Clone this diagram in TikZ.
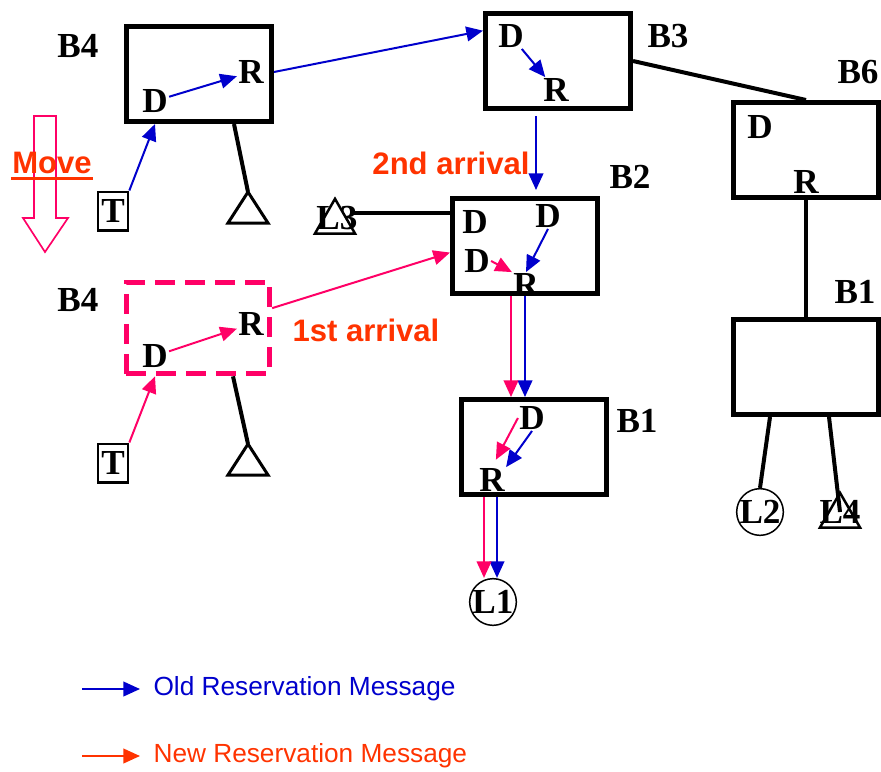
\documentclass[tikz,border=0pt]{standalone}
\usepackage{fontspec}
\setmainfont{Liberation Serif}
\newfontfamily\arialfont{Liberation Sans}
\usetikzlibrary{arrows.meta,shapes.geometric}

\definecolor{oldblue}{RGB}{0,0,204}
\definecolor{newpink}{RGB}{255,0,102}
\definecolor{newred}{RGB}{255,51,0}

\tikzset{
  bridge/.style={draw, line width=1.5mm, minimum width=43.5mm, minimum height=28.5mm, inner sep=0pt},
  ghost/.style={draw=newpink, line width=1.5mm, dash pattern=on 6mm off 3mm, minimum width=43mm, minimum height=27.5mm, inner sep=0pt},
  ltr/.style={font=\fontsize{30}{30}\selectfont\bfseries, inner sep=1pt},
  term/.style={draw, line width=0.8mm, minimum width=9mm, minimum height=11.5mm, inner sep=0pt, font=\fontsize{30}{30}\selectfont\bfseries},
  host/.style={circle, draw, line width=0.45mm, minimum size=14mm, inner sep=0pt},
  tri/.style={regular polygon, regular polygon sides=3, draw, line width=0.75mm, minimum size=13.9mm, inner sep=0pt},
  link/.style={line width=1.2mm},
  oldmsg/.style={draw=oldblue, line width=0.6mm, -{Triangle[length=5mm,width=4.4mm]}},
  newmsg/.style={draw=newpink, line width=0.6mm, -{Triangle[length=5mm,width=4.4mm]}},
  note/.style={font=\arialfont\bfseries\fontsize{26.5}{28}\selectfont, text=newred, inner sep=1pt},
  legend/.style={font=\arialfont\fontsize{22.4}{24}\selectfont, anchor=west, inner sep=4mm}
}

\begin{document}
\begin{tikzpicture}[x=0.3mm, y=-0.3mm]
\useasboundingbox (0,0) rectangle (881,771);

% bridges
\node[bridge] (b4) at (199,74) {};
\node[bridge] (b3) at (558,61) {};
\node[bridge] (b6) at (806,150) {};
\node[bridge] (b2) at (525,246) {};
\node[bridge] (b1) at (534,447) {};
\node[bridge] (b1r) at (806,367) {};
\node[ghost] (b4n) at (198,328) {};

\node[ltr] (lb4) at (78,46) {B4};
\node[ltr] (lb3) at (668,36) {B3};
\node[ltr] (lb6) at (858,72) {B6};
\node[ltr] (lb2) at (630,177) {B2};
\node[ltr] (lb1r) at (855,292) {B1};
\node[ltr] (lb4n) at (78,300) {B4};
\node[ltr] (lb1) at (637,421) {B1};

% D and R inside the bridges
\node[ltr] (d4) at (155,101) {D};
\node[ltr] (r4) at (251,72) {R};
\node[ltr] (d3) at (511,36) {D};
\node[ltr] (r3) at (556,90) {R};
\node[ltr] (d6) at (760,127) {D};
\node[ltr] (r6) at (806,182) {R};
\node[ltr] (d2a) at (475,222) {D};
\node[ltr] (d2b) at (548,216) {D};
\node[ltr] (d2c) at (477,261) {D};
\node[ltr] (r2) at (526,285) {R};
\node[ltr] (d1) at (532,418) {D};
\node[ltr] (r1) at (492,480) {R};
\node[ltr] (d4n) at (155,356) {D};
\node[ltr] (r4n) at (251,324) {R};

% terminals and hosts
\node[term] (t1) at (113,211) {T};
\node[term] (t2) at (113,463) {T};
\node[host] (l1) at (493,602) {};
\node[ltr] (l1txt) at (l1) {L1};
\node[host] (l2) at (760,512) {};
\node[ltr] (l2txt) at (l2) {L2};
\node[tri] (l3t) at (335,222) {};
\node[ltr] (l3) at (337,218) {L3};
\node[tri] (l4t) at (840,516) {};
\node[ltr] (l4) at (840,512) {L4};

% antennas
\coordinate (a1) at (248,192);
\coordinate (a2) at (248,444);
\draw[link] ([xshift=10.5mm]b4.south) -- (a1);
\draw[line width=0.9mm] (a1) -- ++(-20,31) -- ++(40,0) -- cycle;
\draw[link] ([xshift=10.5mm]b4n.south) -- (a2);
\draw[line width=0.9mm] (a2) -- ++(-20,31) -- ++(40,0) -- cycle;

% wires
\coordinate (l3e) at (352,213);
\draw[link] (b2.west |- l3e) -- (l3e);
\draw[link] (b3.east) -- (b6.north);
\draw[link] (b6.south) -- (b1r.north);
\draw[link] ([xshift=-10.8mm]b1r.south) -- (l2.north);
\draw[link] ([xshift=6.9mm]b1r.south) -- (l4.center);

% move
\draw[newpink, line width=0.5mm] (34,116) -- (56,116) -- (56,218) -- (68,218) -- (45,252) -- (23,218) -- (34,218) -- cycle;
\node[note] (mv) at (52,163) {Move};
\draw[newred, line width=0.7mm] ([yshift=-1mm]mv.south west) -- ([yshift=-1mm]mv.south east);

% old reservation path
\coordinate (c32) at (536,0);
\draw[oldmsg] (t1.north east) -- (d4 |- b4.south);
\draw[oldmsg] (d4) -- (r4);
\draw[oldmsg] (b4.east |- r4) -- (b3.158);
\draw[oldmsg] (d3) -- (r3);
\draw[oldmsg, shorten <=1.5mm, shorten >=1.8mm] (b3.south -| c32) -- (b2.north -| c32);
\draw[oldmsg] (d2b.south) -- (r2.north);
\coordinate (q2) at ([xshift=0mm]b2.south);
\draw[oldmsg] (q2) -- (q2 |- b1.north);
\draw[oldmsg] (d1.south) -- (r1.north east);
\coordinate (q1) at ([xshift=-11.1mm]b1.south);
\draw[oldmsg] (q1) -- (q1 |- l1.north);

% new reservation path
\draw[newmsg] (t2.north east) -- (d4n |- b4n.south);
\draw[newmsg] (d4n) -- (r4n);
\draw[newmsg] (b4n.15) -- (b2.185);
\draw[newmsg] (d2c.east) -- (r2.north west);
\coordinate (p2) at ([xshift=-4.2mm]b2.south);
\draw[newmsg] (p2) -- (p2 |- b1.north);
\draw[newmsg, shorten >=2.5mm] (d1.west) -- (r1.north);
\coordinate (p1) at ([xshift=-15mm]b1.south);
\draw[newmsg] (p1) -- (p1 |- l1.north);

\node[note] (n2) at (451,163) {2nd arrival};
\node[note] (n1) at (366,330) {1st arrival};

% legend
\coordinate (k1) at (82,689);
\coordinate (k2) at (82,756);
\node[legend, text=oldblue] (leg1) at (140,689) {Old Reservation Message};
\node[legend, text=newred] (leg2) at (140,756) {New Reservation Message};
\draw[oldmsg] (k1) -- (leg1.west);
\draw[newmsg, draw=newred] (k2) -- (leg2.west);
\end{tikzpicture}
\end{document}
